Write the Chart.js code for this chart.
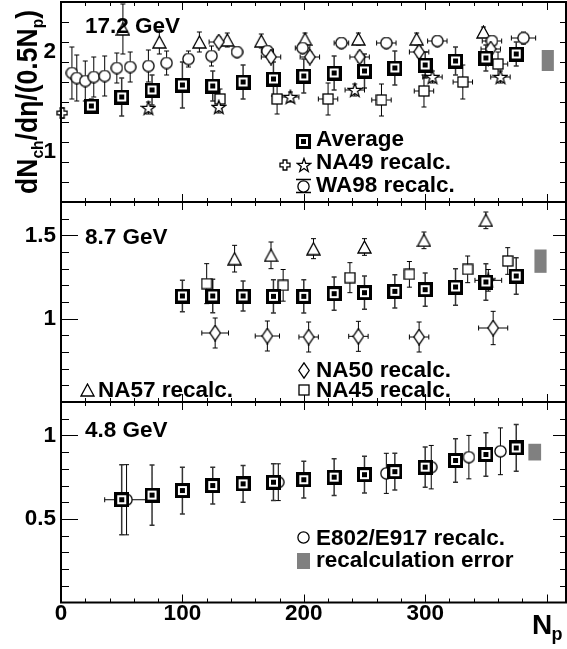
<!DOCTYPE html>
<html>
<head>
<meta charset="utf-8">
<script src="https://cdn.jsdelivr.net/npm/chart.js@4.4.0/dist/chart.umd.min.js"></script>
<style>
  body { margin: 0; background: #fff; }
  #wrap { position: relative; width: 567px; height: 649px; overflow: hidden; }
  canvas { position: absolute; left: 0; }
</style>
</head>
<body>
<div id="wrap">
  <canvas id="c172" width="567" height="205" style="top:0px"></canvas>
  <canvas id="c87" width="567" height="210" style="top:197px"></canvas>
  <canvas id="c48" width="567" height="252" style="top:397px"></canvas>
</div>
<script>
// x axis (N_p)
const npMin = 0, npMax = 416;
const npTicks = [0, 100, 200, 300];

// ---- 17.2 GeV ----
const avg172X = [25, 50, 75, 100, 125, 150, 175, 200, 225, 250, 275, 300, 325, 350, 375];
const avg172Y = [1.46, 1.55, 1.62, 1.67, 1.66, 1.70, 1.73, 1.76, 1.79, 1.81, 1.84, 1.87, 1.91, 1.94, 1.98];
const avg172E = [0.07, 0.19, 0.15, 0.23, 0.15, 0.17, 0.17, 0.17, 0.17, 0.17, 0.17, 0.13, 0.14, 0.13, 0.12];
const wa98X = [9, 13, 20, 27, 36, 46, 57, 72, 87, 105, 124, 145, 170, 199, 231, 268, 310, 355, 381];
const wa98Y = [1.79, 1.74, 1.71, 1.75, 1.76, 1.84, 1.85, 1.86, 1.89, 1.93, 1.96, 2.00, 2.01, 2.04, 2.09, 2.09, 2.11, 2.11, 2.14];
const wa98E = [0.26, 0.23, 0.2, 0.2, 0.2, 0.15, 0.15, 0.16, 0.12, 0.08, 0.1, 0.05, 0.05, 0.05, 0.05, 0.05, 0.05, 0.05, 0.06];
const wa98EX = [0, 0, 0, 0, 0, 0, 0, 0, 0, 0, 0, 4, 5, 6, 6, 8, 8, 8, 10];
const na57_172X = [51, 81, 114, 137, 165, 201, 245, 293, 348];
const na57_172Y = [2.23, 2.10, 2.10, 2.12, 2.11, 2.13, 2.13, 2.13, 2.20];
const na57_172E = [0.25, 0.12, 0.1, 0.07, 0.07, 0.06, 0.06, 0.06, 0.05];
const na50_172X = [130, 173, 205, 246, 295, 354];
const na50_172Y = [2.10, 1.95, 1.95, 1.95, 2.00, 2.03];
const na50_172E = [0.05, 0.05, 0.05, 0.05, 0.05, 0.05];
const na50_172EX = [8, 8, 8, 8, 8, 8];
const na49X = [72, 130, 189, 242, 306, 362];
const na49Y = [1.44, 1.45, 1.55, 1.62, 1.75, 1.75];
const na49E = [0.06, 0.06, 0.05, 0.06, 0.06, 0.06];
const na49EX = [0, 0, 7, 8, 8, 8];
const na49bX = [1];
const na49bY = [1.39];
const na49bE = [0.05];
const na45_172X = [131, 178, 220, 264, 299, 331, 360];
const na45_172Y = [1.53, 1.53, 1.53, 1.52, 1.61, 1.70, 1.88];
const na45_172E = [0.1, 0.15, 0.16, 0.16, 0.16, 0.17, 0.12];
const na45_172EX = [0, 0, 8, 8, 8, 8, 8];

// ---- 8.7 GeV ----
const avg87X = [100, 125, 150, 175, 200, 225, 250, 275, 300, 325, 350, 375];
const avg87Y = [1.136, 1.136, 1.136, 1.134, 1.134, 1.15, 1.156, 1.164, 1.174, 1.19, 1.22, 1.256];
const avg87E = [0.095, 0.1, 0.09, 0.1, 0.1, 0.1, 0.1, 0.1, 0.1, 0.11, 0.11, 0.11];
const na57_87X = [143, 173, 208, 250, 299, 350];
const na57_87Y = [1.36, 1.38, 1.42, 1.43, 1.47, 1.59];
const na57_87E = [0.08, 0.08, 0.06, 0.05, 0.05, 0.05];
const na45_87X = [120, 183, 238, 287, 335, 368];
const na45_87Y = [1.21, 1.20, 1.246, 1.266, 1.296, 1.346];
const na45_87E = [0.12, 0.095, 0.09, 0.077, 0.08, 0.08];
const na50_87X = [127, 170, 204, 245, 295, 356];
const na50_87Y = [0.914, 0.896, 0.89, 0.894, 0.89, 0.944];
const na50_87E = [0.09, 0.09, 0.09, 0.09, 0.09, 0.1];
const na50_87EX = [11, 10, 8, 8, 8, 12];
const na49_87X = [352];
const na49_87Y = [1.23];
const na49_87E = [0.065];
const na49_87EX = [11];

// ---- 4.8 GeV ----
const avg48X = [50, 75, 100, 125, 150, 175, 200, 225, 250, 275, 300, 325, 350, 375];
const avg48Y = [0.615, 0.643, 0.67, 0.70, 0.71, 0.72, 0.735, 0.75, 0.765, 0.783, 0.81, 0.85, 0.886, 0.925];
const avg48E = [0.21, 0.18, 0.14, 0.11, 0.11, 0.11, 0.11, 0.11, 0.11, 0.11, 0.12, 0.13, 0.13, 0.14];
const e802X = [54, 179, 268, 305, 336, 362];
const e802Y = [0.615, 0.72, 0.773, 0.81, 0.87, 0.905];
const e802E = [0.21, 0.11, 0.12, 0.13, 0.13, 0.14];
const e802EX = [18, 0, 0, 0, 0, 0];

// recalculation error boxes (17.2, 8.7, 4.8)
const boxX0 = [396, 390, 385];
const boxX1 = [406, 400, 395.5];
const boxLo = [1.81, 1.275, 0.85];
const boxHi = [2.02, 1.415, 0.95];

const F = '"Liberation Sans", Arial, Helvetica, sans-serif';

// marker images
function mk(w, h, draw) {
    const c = document.createElement('canvas');
    c.width = w; c.height = h;
    const g = c.getContext('2d');
    g.strokeStyle = '#000'; g.fillStyle = '#fff'; g.lineWidth = 1.3;
    draw(g);
    return c;
}
const mAvg = mk(15, 15, g => {
    g.fillRect(0, 0, 15, 15);
    g.lineWidth = 3; g.strokeRect(1.5, 1.5, 12, 12);
    g.fillStyle = '#000'; g.fillRect(5, 5, 5, 5);
});
const mCircle = mk(13, 13, g => {
    g.beginPath(); g.arc(6.5, 6.5, 5.6, 0, Math.PI * 2); g.fill(); g.stroke();
});
const mTri = mk(15, 14, g => {
    g.beginPath(); g.moveTo(7.5, 1); g.lineTo(14, 13); g.lineTo(1, 13); g.closePath(); g.fill(); g.stroke();
});
const mSquare = mk(12, 12, g => {
    g.fillRect(1, 1, 10, 10); g.strokeRect(1, 1, 10, 10);
});
const mDiamond = mk(12, 17, g => {
    g.beginPath(); g.moveTo(6, 0.8); g.lineTo(11.2, 8.5); g.lineTo(6, 16.2); g.lineTo(0.8, 8.5); g.closePath(); g.fill(); g.stroke();
});
const mStar = mk(16, 16, g => {
    g.beginPath();
    for (let i = 0; i < 10; i++) {
        const r = i % 2 ? 2.9 : 7.2;
        const a = -Math.PI / 2 + i * Math.PI / 5;
        const px = 8 + r * Math.cos(a), py = 8.6 + r * Math.sin(a);
        if (i === 0) g.moveTo(px, py); else g.lineTo(px, py);
    }
    g.closePath(); g.fill(); g.stroke();
});
const mCross = mk(12, 12, g => {
    const c = 6, w = 1.9, l = 5;
    g.beginPath();
    g.moveTo(c - w, c - l); g.lineTo(c + w, c - l); g.lineTo(c + w, c - w); g.lineTo(c + l, c - w);
    g.lineTo(c + l, c + w); g.lineTo(c + w, c + w); g.lineTo(c + w, c + l); g.lineTo(c - w, c + l);
    g.lineTo(c - w, c + w); g.lineTo(c - l, c + w); g.lineTo(c - l, c - w); g.lineTo(c - w, c - w);
    g.closePath(); g.fill(); g.stroke();
});

function series(X, Y, EY, EX, style, isAvg) {
    return {
        data: X.map((x, i) => ({ x: x, y: Y[i] })),
        errY: EY, errX: EX,
        pointStyle: style, pointRadius: 7, clip: false,
        barColor: isAvg ? '#333' : '#000', barWidth: isAvg ? 1.5 : 1
    };
}

// error bars, drawn under the markers
const errorBars = {
    id: 'errorBars',
    beforeDatasetsDraw(chart) {
        const ctx = chart.ctx, xs = chart.scales.x, ys = chart.scales.y;
        ctx.save();
        chart.data.datasets.forEach((ds, di) => {
            const meta = chart.getDatasetMeta(di);
            ctx.strokeStyle = ds.barColor; ctx.lineWidth = ds.barWidth;
            ctx.beginPath();
            meta.data.forEach((pt, i) => {
                const d = ds.data[i];
                const ey = ds.errY ? ds.errY[i] : 0;
                const ex = ds.errX ? ds.errX[i] : 0;
                if (ey > 0) {
                    const t = ys.getPixelForValue(d.y + ey), b = ys.getPixelForValue(d.y - ey);
                    ctx.moveTo(pt.x, t); ctx.lineTo(pt.x, b);
                    ctx.moveTo(pt.x - 2.5, t); ctx.lineTo(pt.x + 2.5, t);
                    ctx.moveTo(pt.x - 2.5, b); ctx.lineTo(pt.x + 2.5, b);
                }
                if (ex > 0) {
                    const l = xs.getPixelForValue(d.x - ex), r = xs.getPixelForValue(d.x + ex);
                    ctx.moveTo(l, pt.y); ctx.lineTo(r, pt.y);
                    ctx.moveTo(l, pt.y - 2.5); ctx.lineTo(l, pt.y + 2.5);
                    ctx.moveTo(r, pt.y - 2.5); ctx.lineTo(r, pt.y + 2.5);
                }
            });
            ctx.stroke();
        });
        ctx.restore();
    }
};

// frame with inward ticks on all four sides
function frame(yMin, yMax, yMajor, yMinor) {
    return {
        id: 'frame',
        afterDraw(chart) {
            const ctx = chart.ctx, a = chart.chartArea, xs = chart.scales.x, ys = chart.scales.y;
            ctx.save();
            ctx.strokeStyle = '#000'; ctx.lineWidth = 1;
            ctx.beginPath();
            for (let v = 20; v < npMax; v += 20) {
                const px = Math.round(xs.getPixelForValue(v)) + 0.5;
                const len = v % 100 === 0 ? 8 : 4;
                ctx.moveTo(px, a.top); ctx.lineTo(px, a.top + len);
                ctx.moveTo(px, a.bottom); ctx.lineTo(px, a.bottom - len);
            }
            const n = Math.round((yMax - yMin) / yMinor);
            for (let k = 1; k < n; k++) {
                const v = yMin + k * yMinor;
                const major = yMajor.some(m => Math.abs(m - v) < 1e-6);
                const py = Math.round(ys.getPixelForValue(v)) + 0.5;
                ctx.moveTo(a.left, py); ctx.lineTo(a.left + (major ? 17 : 8), py);
                ctx.moveTo(a.right, py); ctx.lineTo(a.right - (major ? 13 : 6), py);
            }
            ctx.stroke();
            ctx.lineWidth = 2;
            ctx.strokeRect(a.left, a.top, a.right - a.left, a.bottom - a.top);
            ctx.restore();
        }
    };
}

function txt(ctx, s, x, y, size) {
    ctx.font = 'bold ' + (size || 22.5) + 'px ' + F;
    ctx.fillStyle = '#000';
    ctx.textBaseline = 'alphabetic';
    ctx.textAlign = 'left';
    ctx.fillText(s, x, y);
}
function img(ctx, m, x, y) {
    ctx.drawImage(m, Math.round(x - m.width / 2), Math.round(y - m.height / 2));
}

function overlay(panel, top, drawFn) {
    return {
        id: 'overlay',
        afterDraw(chart) {
            const ctx = chart.ctx, xs = chart.scales.x, ys = chart.scales.y;
            ctx.save();
            ctx.fillStyle = '#808080';
            const x0 = xs.getPixelForValue(boxX0[panel]), x1 = xs.getPixelForValue(boxX1[panel]);
            const y0 = ys.getPixelForValue(boxHi[panel]), y1 = ys.getPixelForValue(boxLo[panel]);
            ctx.fillRect(x0, y0, x1 - x0, y1 - y0);
            ctx.translate(0, -top);
            drawFn(ctx);
            ctx.restore();
        }
    };
}

function yTitle(ctx) {
    const parts = [['dN', 0], ['ch', 1], ['/d', 0], ['\u03b7', 0], ['/(0.5N', 0], ['p', 1], [')', 0]];
    const big = 29, small = 17;
    let w = 0;
    parts.forEach(p => {
        ctx.font = 'bold ' + (p[1] ? small : big) + 'px ' + F;
        w += ctx.measureText(p[0]).width;
    });
    ctx.save();
    ctx.translate(36.5, 194);
    ctx.rotate(-Math.PI / 2);
    ctx.scale(184 / w, 1);
    ctx.fillStyle = '#000';
    ctx.textBaseline = 'alphabetic';
    let x = 0;
    parts.forEach(p => {
        ctx.font = 'bold ' + (p[1] ? small : big) + 'px ' + F;
        ctx.fillText(p[0], x, p[1] ? 6 : 0);
        x += ctx.measureText(p[0]).width;
    });
    ctx.restore();
}

function makePanel(id, datasets, yMin, yMax, yMajor, yMinor, showX, ovl) {
    return new Chart(document.getElementById(id), {
        type: 'scatter',
        data: { datasets: datasets },
        options: {
            responsive: false,
            animation: false,
            events: [],
            layout: { autoPadding: false, padding: { top: 0, bottom: 0, left: 0, right: 0 } },
            plugins: { legend: { display: false }, tooltip: { enabled: false } },
            scales: {
                x: {
                    type: 'linear', min: npMin, max: npMax, display: showX,
                    grid: { display: false, drawTicks: false },
                    border: { display: false },
                    afterBuildTicks: a => { a.ticks = npTicks.map(v => ({ value: v })); },
                    afterFit: a => { a.height = showX ? 46 : 0; a.paddingLeft = 0; a.paddingRight = 0; },
                    ticks: { font: { family: F, size: 22.5, weight: 'bold' }, color: '#000', padding: -2, maxRotation: 0, autoSkip: false, callback: v => String(v) }
                },
                y: {
                    type: 'linear', min: yMin, max: yMax,
                    grid: { display: false, drawTicks: false },
                    border: { display: false },
                    afterBuildTicks: a => { a.ticks = yMajor.map(v => ({ value: v })); },
                    afterFit: a => { a.width = 61; a.paddingTop = 0; a.paddingBottom = 0; },
                    ticks: { font: { family: F, size: 22.5, weight: 'bold' }, color: '#000', padding: 5, callback: v => String(v) }
                }
            }
        },
        plugins: [errorBars, frame(yMin, yMax, yMajor, yMinor), ovl]
    });
}

// nudge the layout padding until the plot area sits where the panel belongs
function placeArea(chart, top, bottom) {
    for (let k = 0; k < 3; k++) {
        const a = chart.chartArea;
        const p = chart.options.layout.padding;
        chart.options.layout.padding = {
            top: p.top + (top - a.top),
            bottom: p.bottom + (a.bottom - bottom),
            left: p.left + (61 - a.left),
            right: p.right + (a.right - 566)
        };
        chart.update();
    }
}

const yMajor172 = [1, 2];
const yMajor87 = [1, 1.5];
const yMajor48 = [0.5, 1];

const ch172 = makePanel('c172', [
    series(avg172X, avg172Y, avg172E, null, mAvg, true),
    series(na49X, na49Y, na49E, na49EX, mStar),
    series(na49bX, na49bY, na49bE, null, mCross),
    series(na45_172X, na45_172Y, na45_172E, na45_172EX, mSquare),
    series(na50_172X, na50_172Y, na50_172E, na50_172EX, mDiamond),
    series(wa98X, wa98Y, wa98E, wa98EX, mCircle),
    series(na57_172X, na57_172Y, na57_172E, null, mTri)
], 0.5, 2.5, yMajor172, 0.2, false, overlay(0, 0, ctx => {
    txt(ctx, '17.2 GeV', 85, 33);
    img(ctx, mAvg, 303.5, 141.5);
    txt(ctx, 'Average', 316, 146);
    img(ctx, mCross, 285, 164.5);
    img(ctx, mStar, 304, 164.5);
    txt(ctx, 'NA49 recalc.', 316, 169);
    ctx.strokeStyle = '#000'; ctx.lineWidth = 1.5;
    ctx.beginPath();
    ctx.moveTo(296, 179.5); ctx.lineTo(311, 179.5);
    ctx.moveTo(296, 192.5); ctx.lineTo(311, 192.5);
    ctx.stroke();
    img(ctx, mCircle, 303.5, 186);
    txt(ctx, 'WA98 recalc.', 316, 191.5);
    yTitle(ctx);
}));
placeArea(ch172, 2, 202);

const ch87 = makePanel('c87', [
    series(avg87X, avg87Y, avg87E, null, mAvg, true),
    series(na49_87X, na49_87Y, na49_87E, na49_87EX, mStar),
    series(na45_87X, na45_87Y, na45_87E, null, mSquare),
    series(na50_87X, na50_87Y, na50_87E, na50_87EX, mDiamond),
    series(na57_87X, na57_87Y, na57_87E, null, mTri)
], 0.5, 1.7, yMajor87, 0.1, false, overlay(1, 197, ctx => {
    txt(ctx, '8.7 GeV', 85, 243.5);
    img(ctx, mDiamond, 303.5, 370);
    txt(ctx, 'NA50 recalc.', 316, 376.5);
    img(ctx, mSquare, 303.5, 390);
    txt(ctx, 'NA45 recalc.', 316, 396.5);
    img(ctx, mTri, 87, 390);
    txt(ctx, 'NA57 recalc.', 98, 397);
}));
placeArea(ch87, 5, 205);

const ch48 = makePanel('c48', [
    series(avg48X, avg48Y, avg48E, null, mAvg, true),
    series(e802X, e802Y, e802E, e802EX, mCircle)
], 0, 1.2, yMajor48, 0.1, true, overlay(2, 397, ctx => {
    txt(ctx, '4.8 GeV', 85, 436.5);
    img(ctx, mCircle, 303.5, 537);
    txt(ctx, 'E802/E917 recalc.', 316, 545);
    ctx.fillStyle = '#808080';
    ctx.fillRect(297, 553, 13, 16);
    txt(ctx, 'recalculation error', 316, 566.5);
    txt(ctx, 'N', 532, 633.5, 28);
    txt(ctx, 'p', 551.5, 639.5, 18);
}));
placeArea(ch48, 5, 205.5);
</script>
</body>
</html>
